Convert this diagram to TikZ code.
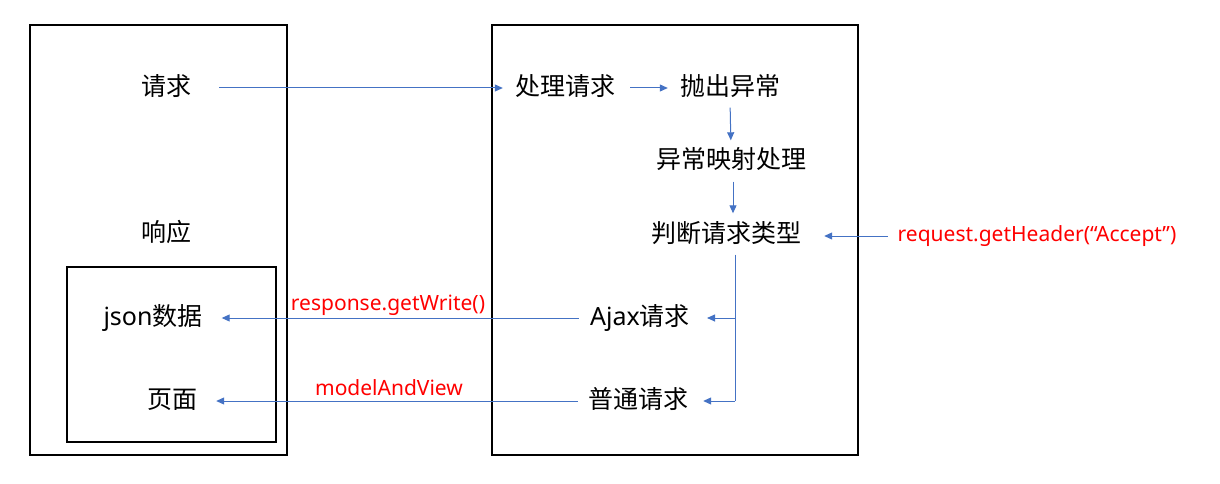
\documentclass[tikz,border=0pt]{standalone}
\usepackage{fontspec}
\setmainfont{Noto Sans CJK SC}
\newfontfamily\lat{Noto Sans}
\usetikzlibrary{arrows.meta}
\definecolor{arrblue}{HTML}{4472C4}
\definecolor{labred}{HTML}{FF0000}
\begin{document}
\begin{tikzpicture}[x=1pt,y=-1pt,
  txt/.style={inner sep=0pt,text height=19pt,text depth=4pt,font=\fontsize{25}{28}\selectfont},
  lab/.style={inner sep=0pt,text=labred,font=\lat\fontsize{21}{25}\selectfont},
  frame/.style={draw=black,line width=1.1pt},
  arr/.style={draw=arrblue,line width=1pt,-{Triangle[length=8pt,width=7pt]}},
  ln/.style={draw=arrblue,line width=1pt}]
\useasboundingbox (0,0) rectangle (1220,484);
\fill[white] (0,0) rectangle (1220,484);
% boxes
\draw[frame] (30,25) rectangle (287,455);
\draw[frame] (67,267) rectangle (276,442);
\draw[frame] (492,25) rectangle (858,455);
% left texts
\node[txt] (qq) at (166,88) {请求};
\node[txt] (xy) at (166,234) {响应};
\node[txt] (json) at (153,318) {{\lat json}数据};
\node[txt] (ym) at (172,401) {页面};
% right texts
\node[txt] (clqq) at (565,88) {处理请求};
\node[txt] (pcyc) at (730,88) {抛出异常};
\node[txt] (ycys) at (731,161) {异常映射处理};
\node[txt] (pd) at (726,235) {判断请求类型};
\node[txt] (ajax) at (640,318) {{\lat Ajax}请求};
\node[txt] (pt) at (638,401) {普通请求};
\node[lab] (hdr) at (1037,236) {request.getHeader(“Accept”)};
\node[lab] (lw) at (388,305) {response.getWrite()};
\node[lab] (lm) at (389,388) {modelAndView};
% helper coordinates
\coordinate (vx) at (735,0);
\coordinate (vy) at (733,0);
% arrows
\draw[arr,shorten <=28pt,shorten >=12pt] (qq) -- (clqq);
\draw[arr,shorten <=15pt,shorten >=12pt] (clqq) -- (pcyc);
\draw[arr,shorten <=8pt,shorten >=9pt] (pcyc.south) -- (ycys.north);
\draw[arr,shorten <=9pt,shorten >=10pt] (ycys.south -| vy) -- (pd.north -| vy);
\draw[arr,shorten <=10pt,shorten >=23pt] (hdr) -- (hdr -| pd.east);
\draw[ln,shorten <=8pt] (pd.south -| vx) -- (pt -| vx);
\draw[arr,shorten >=17pt] (ajax -| vx) -- (ajax);
\draw[arr,shorten >=15pt] (pt -| vx) -- (pt);
\draw[arr,shorten <=11pt,shorten >=19pt] (ajax) -- (json);
\draw[arr,shorten <=10pt,shorten >=19pt] (pt) -- (ym);
\end{tikzpicture}
\end{document}
